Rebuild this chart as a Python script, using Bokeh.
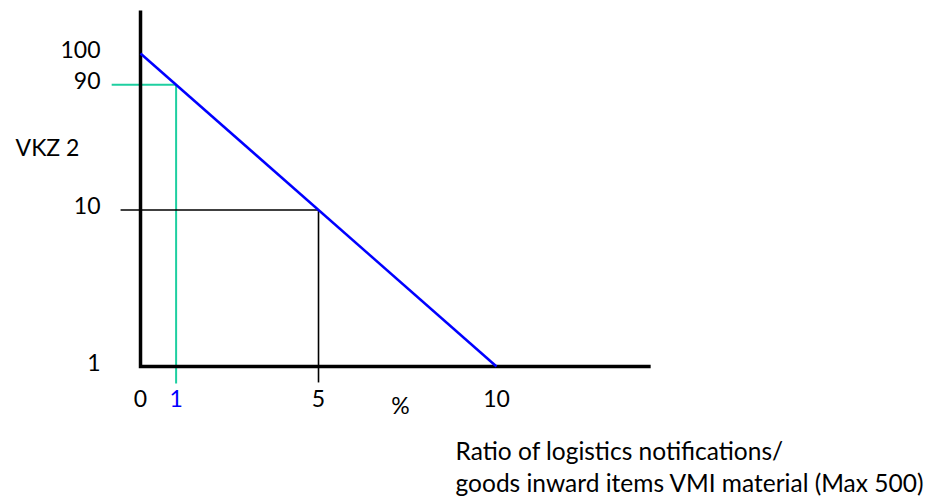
from bokeh.plotting import figure
from bokeh.models import Range1d, ColumnDataSource
from bokeh.core.properties import value
from bokeh.embed import file_html
from bokeh.resources import INLINE

# ---- data (schematic chart) ----
pct_ticks = [0, 1, 5, 10]
pct_labels = ["0", "1", "5", "10"]
pct_colors = ["black", "#0000FF", "black", "black"]

vkz_labels = ["100", "90", "10", "1"]
vkz_levels = [10, 9, 5, 0]          # schematic vertical levels of the VKZ values

curve_x = [0, 10]                    # % ratio
curve_y = [10, 0]                    # level of VKZ 100 -> VKZ 1

green_x, green_y = 1, 9              # 1 %  -> VKZ 90
black_x, black_y = 5, 5              # 5 %  -> VKZ 10

x_axis_end = 14.33
y_axis_end = 11.37

caption = ["Ratio of logistics notifications/",
           "goods inward items VMI material (Max 500)"]

FONT = "Lato"
FS = "23px"
FS_CAP = "24.5px"

H = 500
p = figure(width=930, height=H, output_backend="svg", toolbar_location=None,
           x_range=Range1d(-3.933, 22.191), y_range=Range1d(11.693 - H / 31.3, 11.693),
           min_border=0)
p.axis.visible = False
p.grid.visible = False
p.outline_line_color = None
p.background_fill_color = "white"
p.border_fill_color = "white"

# guide lines
p.segment(x0=[-0.81, green_x], y0=[green_y, green_y], x1=[green_x, green_x], y1=[green_y, -0.54],
          line_color="#1ECFA0", line_width=2)
p.segment(x0=[-0.56, black_x], y0=[black_y, black_y], x1=[black_x, black_x], y1=[black_y, -0.51],
          line_color="black", line_width=1.6)

# axes
p.line(x=[0, 0, x_axis_end], y=[y_axis_end, 0, 0], line_color="black", line_width=3.5,
       line_join="miter")

# curve
p.line(x=curve_x, y=curve_y, line_color="#0000FF", line_width=2.5)

# x tick labels
src_x = ColumnDataSource(dict(x=pct_ticks, y=[0] * len(pct_ticks), t=pct_labels, c=pct_colors))
p.text(x="x", y="y", text="t", text_color="c", source=src_x, y_offset=32,
       text_align="center", text_baseline="middle",
       text_font=value(FONT), text_font_size=FS)

# y tick labels
src_y = ColumnDataSource(dict(x=[0] * len(vkz_levels), y=vkz_levels, t=vkz_labels))
p.text(x="x", y="y", text="t", source=src_y, x_offset=-40, y_offset=-4,
       text_align="right", text_baseline="middle",
       text_font=value(FONT), text_font_size=FS, text_color="black")

# axis titles
p.text(x=[-3.51], y=[7.0], text=["VKZ 2"], text_align="left", text_baseline="middle",
       text_font=value(FONT), text_font_size=FS, text_color="black")
p.text(x=[7.3], y=[0], text=["%"], y_offset=39, text_align="center", text_baseline="middle",
       text_font=value(FONT), text_font_size=FS, text_color="black")
p.text(x=[8.85, 8.85], y=[-2.68, -3.71], text=caption,
       text_align="left", text_baseline="middle",
       text_font=value(FONT), text_font_size=FS_CAP, text_color="black")

open("out.html", "w").write(file_html(p, INLINE))
